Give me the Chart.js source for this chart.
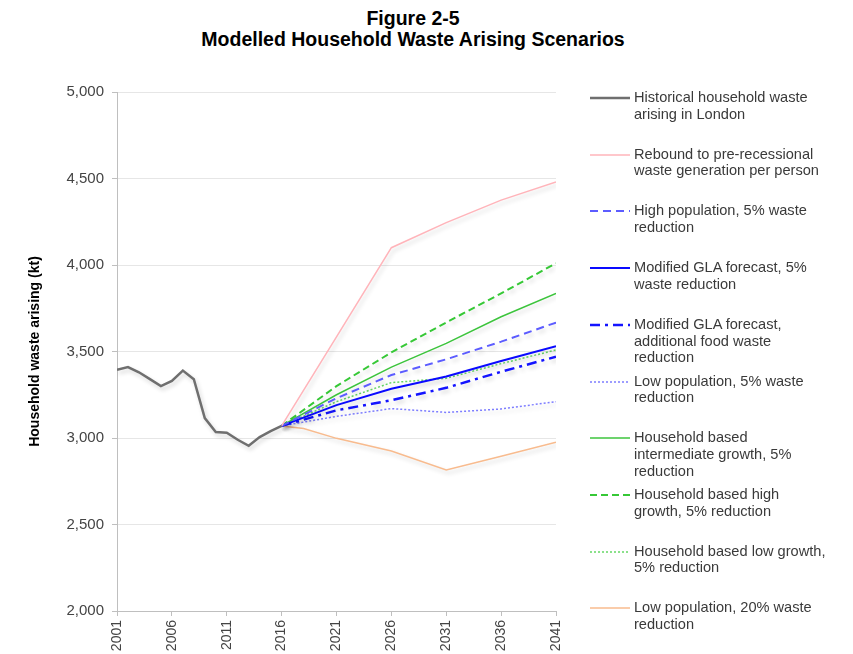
<!DOCTYPE html>
<html>
<head>
<meta charset="utf-8">
<script src="https://cdn.jsdelivr.net/npm/chart.js@4/dist/chart.umd.min.js"></script>
<style>
  html, body { margin: 0; padding: 0; background: #fff; }
  #wrap { position: relative; width: 853px; height: 654px; overflow: hidden; font-family: "Liberation Sans", Arial, sans-serif; }
  #title { position: absolute; left: 0; top: 8px; width: 826px; text-align: center; font-weight: bold; font-size: 19.5px; line-height: 21px; color: #000; }
  #chartBox { position: absolute; left: 0; top: 0; width: 853px; height: 654px; }
  #legend { position: absolute; left: 0; top: 0; }
  .item { position: absolute; left: 590px; }
  .item svg { position: absolute; left: 0; top: 2px; }
  .item .txt { position: absolute; left: 44px; top: -1px; white-space: nowrap; font-size: 14.6px; line-height: 16.8px; color: #3a3a3a; }
</style>
</head>
<body>
<div id="wrap">
  <div id="title">Figure 2-5<br>Modelled Household Waste Arising Scenarios</div>
  <div id="chartBox"><canvas id="wasteChart" width="853" height="654"></canvas></div>
  <div id="legend"></div>
</div>
<script>
// historical figures (kt)
const histYears = [2001, 2002, 2003, 2004, 2005, 2006, 2007, 2008, 2009, 2010, 2011, 2012, 2013, 2014, 2015, 2016];
const histValues = [3395, 3410, 3380, 3340, 3300, 3330, 3390, 3340, 3115, 3035, 3030, 2990, 2955, 3005, 3040, 3070];

// scenario years
const projYears = [2016, 2021, 2026, 2031, 2036, 2041];
const rebound = [3070, 3585, 4100, 4245, 4375, 4480];
const highPop5 = [3070, 3230, 3364, 3455, 3557, 3667];
const glaForecast5 = [3070, 3190, 3285, 3355, 3445, 3530];
const glaFood = [3070, 3160, 3218, 3290, 3383, 3470];
const lowPop5 = [3070, 3125, 3170, 3148, 3168, 3210];
const hhIntermediate = [3070, 3250, 3410, 3547, 3701, 3836];
const hhHigh = [3070, 3300, 3495, 3668, 3836, 4010];
const hhLow = [3070, 3210, 3320, 3345, 3430, 3509];
const lowPop20Years = [2016, 2018, 2021, 2026, 2031, 2036, 2041];
const lowPop20 = [3070, 3055, 2998, 2925, 2815, 2895, 2975];

const yTicks = [2000, 2500, 3000, 3500, 4000, 4500, 5000];
const xTicks = [2001, 2006, 2011, 2016, 2021, 2026, 2031, 2036, 2041];

const legendLines = [
    ["Historical household waste", "arising in London"],
    ["Rebound to pre-recessional", "waste generation per person"],
    ["High population, 5% waste", "reduction"],
    ["Modified GLA forecast, 5%", "waste reduction"],
    ["Modified GLA forecast,", "additional food waste", "reduction"],
    ["Low population, 5% waste", "reduction"],
    ["Household based", "intermediate growth, 5%", "reduction"],
    ["Household based high", "growth, 5% reduction"],
    ["Household based low growth,", "5% reduction"],
    ["Low population, 20% waste", "reduction"]
];

function pts(xs, ys) {
    return xs.map((x, i) => ({ x: x, y: ys[i] }));
}

function line(idx, xs, ys, color, width, dash) {
    return {
        label: legendLines[idx].join(" "),
        data: pts(xs, ys),
        borderColor: color,
        backgroundColor: color,
        borderWidth: width,
        borderDash: dash || [],
        pointRadius: 0,
        fill: false,
        tension: 0
    };
}

// soft drop shadow like the original spreadsheet chart
const shadowPlugin = {
    id: "lineShadow",
    beforeDatasetDraw(chart) {
        const ctx = chart.ctx;
        ctx.save();
        ctx.shadowColor = "rgba(0,0,0,0.16)";
        ctx.shadowBlur = 4;
        ctx.shadowOffsetX = 2;
        ctx.shadowOffsetY = 3;
    },
    afterDatasetDraw(chart) {
        chart.ctx.restore();
    }
};

const datasets = [
    line(0, histYears, histValues, "#6f6f6f", 2.5),
    line(1, projYears, rebound, "#ffb4ba", 1.5),
    line(2, projYears, highPop5, "#5c5cff", 2, [8, 5]),
    line(3, projYears, glaForecast5, "#0a0aff", 2),
    line(4, projYears, glaFood, "#1414ff", 2.5, [10, 5, 3, 5]),
    line(5, projYears, lowPop5, "#7d7dff", 1.5, [2, 2]),
    line(6, projYears, hhIntermediate, "#3cc43c", 1.5),
    line(7, projYears, hhHigh, "#36c836", 2, [7, 4]),
    line(8, projYears, hhLow, "#66d866", 1.5, [2, 2]),
    line(9, lowPop20Years, lowPop20, "#f8bb8e", 1.5)
];

const fontFamily = "'Liberation Sans', Arial, sans-serif";

const chart = new Chart(document.getElementById("wasteChart").getContext("2d"), {
    type: "line",
    data: { datasets: datasets },
    options: {
        responsive: false,
        animation: false,
        layout: { padding: { left: 0, right: 297, top: 92, bottom: 0 } },
        plugins: { legend: { display: false }, tooltip: { enabled: false } },
        scales: {
            x: {
                type: "linear",
                min: 2001,
                max: 2041,
                afterFit: s => { s.height = 43; },
                afterBuildTicks: s => { s.ticks = xTicks.map(v => ({ value: v })); },
                ticks: {
                    color: "#444",
                    font: { family: fontFamily, size: 14 },
                    minRotation: 90,
                    maxRotation: 90,
                    padding: 4,
                    callback: v => String(v)
                },
                grid: { drawOnChartArea: false, color: "#bfbfbf", tickLength: 5 },
                border: { color: "#bfbfbf" }
            },
            y: {
                min: 2000,
                max: 5000,
                afterFit: s => { s.width = 117; },
                afterBuildTicks: s => { s.ticks = yTicks.map(v => ({ value: v })); },
                ticks: {
                    color: "#444",
                    font: { family: fontFamily, size: 15 },
                    padding: 8,
                    callback: v => v.toLocaleString("en-US")
                },
                grid: { color: "#e6e6e6", tickColor: "#bfbfbf", tickLength: 5 },
                border: { color: "#bfbfbf" },
                title: {
                    display: true,
                    text: "Household waste arising (kt)",
                    color: "#000",
                    font: { family: fontFamily, size: 14, weight: "bold" },
                    padding: { top: 27, bottom: 0 }
                }
            }
        }
    },
    plugins: [shadowPlugin]
});

// legend on the right, built from the chart's datasets
const legendEl = document.getElementById("legend");
chart.data.datasets.forEach((ds, i) => {
    const item = document.createElement("div");
    item.className = "item";
    item.style.top = (90 + i * 56.7) + "px";
    const dash = ds.borderDash.length ? ' stroke-dasharray="' + ds.borderDash.join(" ") + '"' : "";
    item.innerHTML =
        '<svg width="40" height="12"><line x1="0" y1="6" x2="40" y2="6" stroke="' + ds.borderColor +
        '" stroke-width="' + ds.borderWidth + '"' + dash + '/></svg>' +
        '<div class="txt">' + legendLines[i].join("<br>") + "</div>";
    legendEl.appendChild(item);
});
</script>
</body>
</html>
